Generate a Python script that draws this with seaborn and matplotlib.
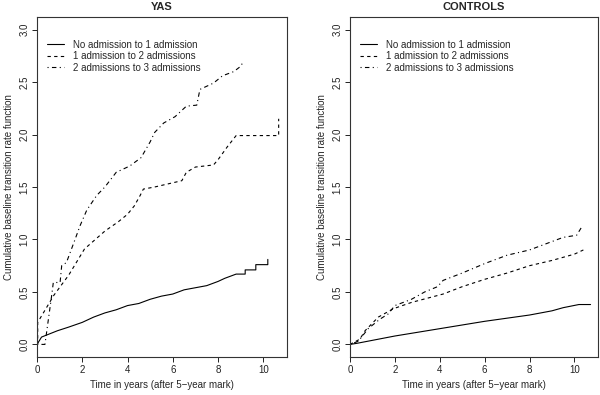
import pandas as pd
import seaborn as sns
import matplotlib.pyplot as plt
from matplotlib.lines import Line2D

# Transitions shown in each panel
transitions = ['No admission to 1 admission',
               '1 admission to 2 admissions',
               '2 admissions to 3 admissions']

# YAS - cumulative baseline transition rate (values read off the figure,
# repeated times mark the visible vertical steps)
yas_t0 = [0, 0.2, 0.9, 1.4, 2, 2.5, 3, 3.5, 4, 4.5, 5, 5.5, 6, 6.5, 7,
          7.5, 8, 8.3, 8.8, 9.2, 9.2, 9.67, 9.67, 10.2, 10.2]
yas_v0 = [0, 0.07, 0.13, 0.165, 0.21, 0.26, 0.30, 0.33, 0.37, 0.39, 0.43,
          0.46, 0.48, 0.52, 0.54, 0.56, 0.60, 0.63, 0.67, 0.67, 0.71, 0.71,
          0.76, 0.76, 0.81]
yas_t1 = [0, 0.03, 0.03, 0.75, 1.4, 2.1, 3.0, 3.6, 4.0, 4.3, 4.56, 4.7,
          5.2, 5.8, 6.4, 6.6, 7.0, 7.8, 8.0, 8.4, 8.8, 10.68, 10.68]
yas_v1 = [0, 0, 0.21, 0.47, 0.66, 0.91, 1.08, 1.17, 1.24, 1.32, 1.42, 1.48,
          1.50, 1.53, 1.56, 1.64, 1.69, 1.71, 1.76, 1.88, 1.99, 1.99, 2.15]
yas_t2 = [0, 0.35, 0.65, 0.72, 1.02, 1.09, 1.3, 1.68, 1.9, 2.2, 2.64, 3.0,
          3.5, 4.1, 4.6, 5.0, 5.2, 5.6, 6.1, 6.6, 7.06, 7.2, 7.8, 8.2, 8.7,
          9.0, 9.13]
yas_v2 = [0, 0, 0.47, 0.59, 0.59, 0.75, 0.78, 1.00, 1.13, 1.28, 1.42, 1.50,
          1.64, 1.70, 1.78, 1.93, 2.02, 2.11, 2.17, 2.27, 2.28, 2.43, 2.49,
          2.56, 2.60, 2.65, 2.70]

# CONTROLS
con_t0 = [0, 0.3, 2, 4, 6, 8, 8.5, 9, 9.5, 10.2, 10.72]
con_v0 = [0, 0.01, 0.08, 0.15, 0.22, 0.28, 0.30, 0.32, 0.35, 0.38, 0.38]
con_t1 = [0, 0.44, 0.67, 1.26, 1.93, 2.74, 4.15, 5, 6, 7, 8, 9, 10, 10.4]
con_v1 = [0, 0.05, 0.13, 0.26, 0.34, 0.40, 0.48, 0.55, 0.62, 0.68, 0.75,
          0.80, 0.86, 0.90]
con_t2 = [0, 0.37, 0.81, 1.33, 1.7, 2.0, 2.74, 3.33, 3.9, 4.15, 5, 6, 7,
          8, 9, 9.5, 10.1, 10.3]
con_v2 = [0, 0.03, 0.15, 0.24, 0.29, 0.37, 0.43, 0.50, 0.55, 0.61, 0.68,
          0.77, 0.85, 0.90, 0.98, 1.02, 1.04, 1.11]

yticks = [0.0, 0.5, 1.0, 1.5, 2.0, 2.5, 3.0]
xticks = [0, 2, 4, 6, 8, 10]


def long_df(ts, vs):
    frames = []
    for name, t, v in zip(transitions, ts, vs):
        frames.append(pd.DataFrame({'Time': t, 'Rate': v, 'Transition': name}))
    return pd.concat(frames, ignore_index=True)


yas = long_df([yas_t0, yas_t1, yas_t2], [yas_v0, yas_v1, yas_v2])
con = long_df([con_t0, con_t1, con_t2], [con_v0, con_v1, con_v2])

sns.set_style('ticks')
plt.rcParams['font.family'] = ['Liberation Sans', 'DejaVu Sans']
plt.rcParams['font.size'] = 7

dash_list = ['', (3, 3), (1, 3, 4, 3)]

fig = plt.figure(figsize=(6, 3.95), dpi=100)
axes = [fig.add_axes([0.0617, 0.0962, 0.4167, 0.8608]),
        fig.add_axes([0.5833, 0.0962, 0.4133, 0.8608])]

for ax, df, title in zip(axes, [yas, con], ['YAS', 'CONTROLS']):
    sns.lineplot(data=df, x='Time', y='Rate',
                 style='Transition', style_order=transitions,
                 dashes=dash_list, color='black', linewidth=0.8,
                 estimator=None, sort=False, legend=False, ax=ax)
    ax.set_xlim(0, 11.05)
    ax.set_ylim(-0.12, 3.12)
    ax.set_xticks(xticks)
    ax.set_yticks(yticks)
    ax.set_yticklabels([f'{v:.1f}' for v in yticks], rotation=90, va='center')
    ax.tick_params(length=3.5, width=0.7, pad=2, labelsize=7, colors='#222222')
    for s in ax.spines.values():
        s.set_linewidth(0.8)
        s.set_color('#333333')
    ax.set_xlabel('Time in years (after 5\u2212year mark)', fontsize=7, labelpad=4)
    ax.set_ylabel('Cumulative baseline transition rate function', fontsize=7, labelpad=4)
    ax.set_title(title, fontsize=8, fontweight='bold', pad=5)

    handles = [Line2D([], [], color='black', lw=0.8, linestyle='-'),
               Line2D([], [], color='black', lw=0.8, dashes=dash_list[1]),
               Line2D([], [], color='black', lw=0.8, dashes=dash_list[2])]
    ax.legend(handles, transitions, loc='upper left', frameon=False,
              fontsize=7, handlelength=1.8, handletextpad=0.95,
              labelspacing=0.15, borderaxespad=0.6, bbox_to_anchor=(0.0, 0.962))

fig.savefig('out.png', dpi=100)
